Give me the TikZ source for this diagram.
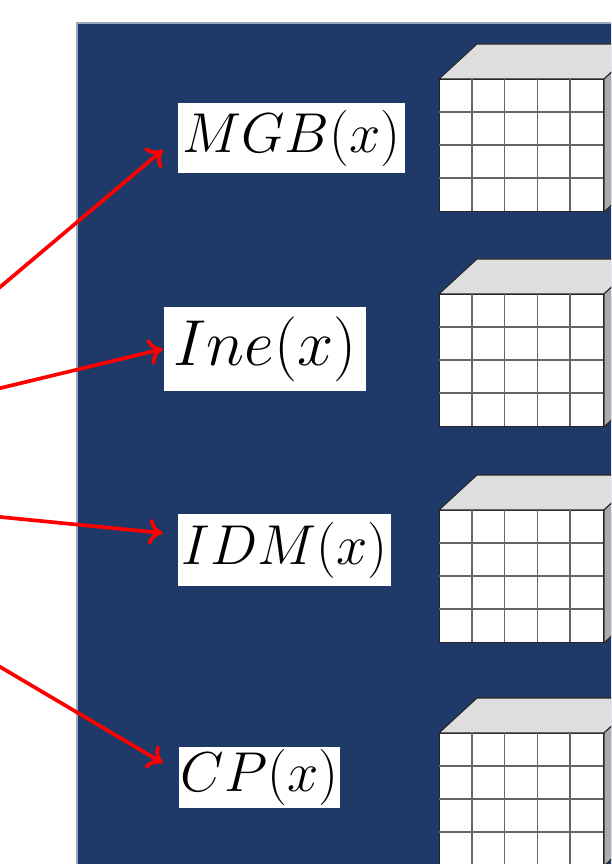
\RequirePackage{fix-cm}
\documentclass[tikz,border=0pt]{standalone}
\usetikzlibrary{positioning, calc, arrows.meta}
\usepackage{xcolor}
\definecolor{panelblue}{RGB}{31,58,104}

\begin{document}
\begin{tikzpicture}[x=0.02cm, y=-0.02cm,
  lbl/.style = {fill=white, inner sep=0pt, font=\fontsize{32}{38}\selectfont},
  cube/.style = {draw=black!85, fill=white, minimum width=3.28cm, minimum height=2.64cm, inner sep=0pt, line width=0.6pt},
  feed/.style = {-{To[length=2.8mm, width=5.2mm]}, red, line width=2.1pt} ]

\useasboundingbox (0,0) rectangle (611,864);
\clip (0,0) rectangle (611,864);

% panel
\draw[fill=panelblue, draw=panelblue!45!white, line width=0.8pt] (77,23) rectangle (700,900);

% cubes
\foreach \y [count=\n] in {79,294,510,733} {
  \node[cube, anchor=north west] (cube\n) at (439,\y) {};
  \draw[fill=black!13, draw=black!85, line width=0.6pt] (cube\n.north west) -- ++(38,-35) -- ++(164,0) -- (cube\n.north east) -- cycle;
  \draw[fill=black!33, draw=black!85, line width=0.6pt] (cube\n.north east) -- ++(38,-35) -- ++(0,132) -- (cube\n.south east) -- cycle;
  \foreach \i in {1,...,4}
    \draw[black!60, line width=1pt] ($(cube\n.north west)+(\i*32.8,0)$) -- ++(0,132);
  \foreach \j in {1,2,3}
    \draw[black!60, line width=1pt] ($(cube\n.north west)+(0,\j*33)$) -- ++(164,0);
}

% labels
\node[lbl, minimum width=4.54cm, minimum height=1.4cm] (mgb) at (291.5,138) {$MGB(x)$};
\node[lbl, minimum width=4.04cm, minimum height=1.68cm, font=\fontsize{37}{44}\selectfont] (ine) at (265,349) {$Ine(x)$};
\node[lbl, minimum width=4.26cm, minimum height=1.44cm] (idm) at (284.5,550) {$IDM(x)$};
\node[lbl, minimum width=3.22cm, minimum height=1.22cm] (cp) at (259.5,777.5) {$CP(x)$};

% incoming arrows
\coordinate (srcA) at (-20,304);
\coordinate (srcB) at (-20,393);
\coordinate (srcC) at (-20,515);
\coordinate (srcD) at (-20,655);

\draw[feed] (srcA) -- ([xshift=-3mm, yshift=-2.4mm]mgb.west);
\draw[feed] (srcB) -- ([xshift=-0.2mm]ine.west);
\draw[feed] (srcC) -- ([xshift=-3mm, yshift=3.4mm]idm.west);
\draw[feed] (srcD) -- ([xshift=-3.2mm, yshift=2.9mm]cp.west);

\end{tikzpicture}
\end{document}
